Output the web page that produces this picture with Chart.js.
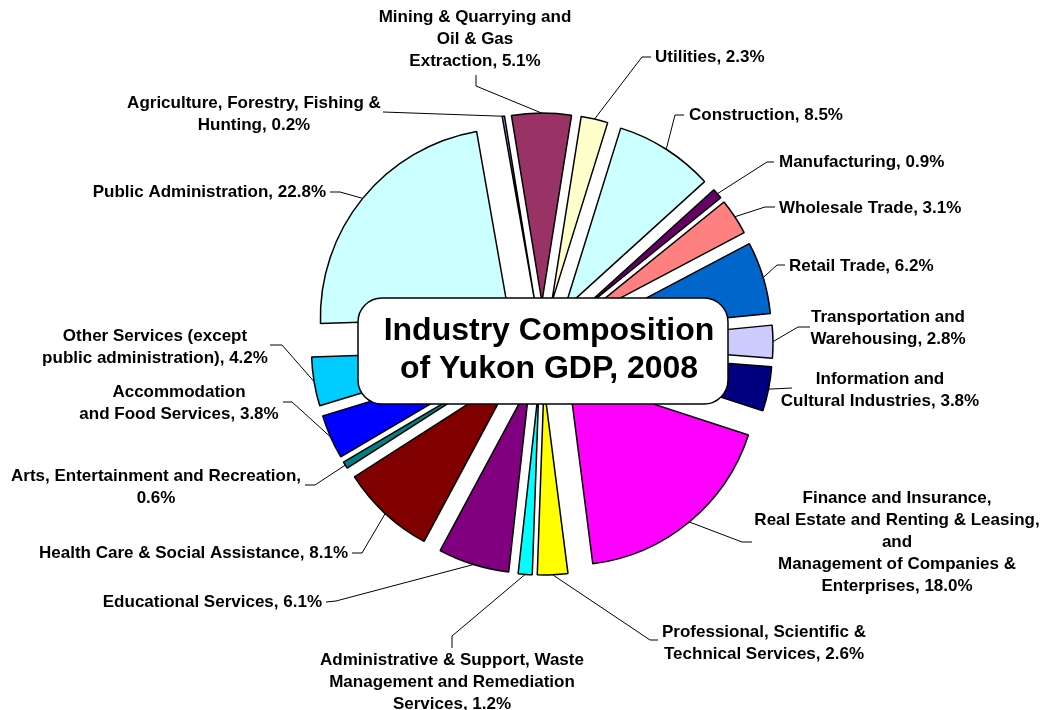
<!DOCTYPE html>
<html>
<head>
<meta charset="utf-8">
<script src="https://cdn.jsdelivr.net/npm/chart.js@4"></script>
<style>
  html, body { margin: 0; padding: 0; background: #fff; }
  canvas { display: block; }
</style>
</head>
<body>
<canvas id="gdpChart" width="1044" height="710"></canvas>
<script>
// Industry composition of Yukon GDP, 2008 (percent)
const categories = [
  "Agriculture, Forestry, Fishing & Hunting",
  "Mining & Quarrying and Oil & Gas Extraction",
  "Utilities",
  "Construction",
  "Manufacturing",
  "Wholesale Trade",
  "Retail Trade",
  "Transportation and Warehousing",
  "Information and Cultural Industries",
  "Finance and Insurance, Real Estate and Renting & Leasing, and Management of Companies & Enterprises",
  "Professional, Scientific & Technical Services",
  "Administrative & Support, Waste Management and Remediation Services",
  "Educational Services",
  "Health Care & Social Assistance",
  "Arts, Entertainment and Recreation",
  "Accommodation and Food Services",
  "Other Services (except public administration)",
  "Public Administration"
];
const shares = [0.2, 5.1, 2.3, 8.5, 0.9, 3.1, 6.2, 2.8, 3.8, 18.0, 2.6, 1.2, 6.1, 8.1, 0.6, 3.8, 4.2, 22.8];

// label text split in lines, {v} = value
const labelLines = [
  ["Agriculture, Forestry, Fishing &", "Hunting, {v}"],
  ["Mining & Quarrying and", "Oil & Gas", "Extraction, {v}"],
  ["Utilities, {v}"],
  ["Construction, {v}"],
  ["Manufacturing, {v}"],
  ["Wholesale Trade, {v}"],
  ["Retail Trade, {v}"],
  ["Transportation and", "Warehousing, {v}"],
  ["Information and", "Cultural Industries, {v}"],
  ["Finance and Insurance,", "Real Estate and Renting & Leasing,", "and", "Management of Companies &", "Enterprises, {v}"],
  ["Professional, Scientific &", "Technical Services, {v}"],
  ["Administrative & Support, Waste", "Management and Remediation", "Services, {v}"],
  ["Educational Services, {v}"],
  ["Health Care & Social Assistance, {v}"],
  ["Arts, Entertainment and Recreation,", "{v}"],
  ["Accommodation", "and Food Services, {v}"],
  ["Other Services (except", "public administration), {v}"],
  ["Public Administration, {v}"]
];
const titleLines = ["Industry Composition", "of Yukon GDP, 2008"];

const sliceColors = [
  "#9999FF", "#993366", "#FFFFCC", "#CCFFFF", "#660066", "#FF8080",
  "#0066CC", "#CCCCFF", "#000080", "#FF00FF", "#FFFF00", "#00FFFF",
  "#800080", "#800000", "#008080", "#0000FF", "#00CCFF", "#CCFFFF"
];

// where each label sits (x, first line y, align) and the leader's bend points
const labelPos = [
  { x: 254, y: 103, align: "center", lead: [[383, 112]] },
  { x: 475, y: 17, align: "center", lead: [[476, 75], [476, 86]] },
  { x: 655, y: 57, align: "left", lead: [[651, 57], [642, 57]] },
  { x: 689, y: 115, align: "left", lead: [[684, 115], [675, 115]] },
  { x: 779, y: 162, align: "left", lead: [[774, 162], [767, 162]] },
  { x: 779, y: 208, align: "left", lead: [[775, 207], [765, 207]] },
  { x: 789, y: 266, align: "left", lead: [[785, 265], [777, 265]] },
  { x: 888, y: 317, align: "center", lead: [[810, 327], [798, 327]] },
  { x: 880, y: 379, align: "center", lead: [[792, 388]] },
  { x: 897, y: 498, align: "center", lead: [[752, 542], [742, 542]] },
  { x: 764, y: 632, align: "center", lead: [[658, 640], [650, 640]] },
  { x: 452, y: 660, align: "center", lead: [[452, 648], [452, 636]] },
  { x: 322, y: 602, align: "right", lead: [[326, 602], [336, 601]] },
  { x: 348, y: 553, align: "right", lead: [[352, 553], [362, 553]] },
  { x: 156, y: 476, align: "center", lead: [[305, 485], [315, 485]] },
  { x: 179, y: 392, align: "center", lead: [[283, 402], [292, 402]] },
  { x: 155, y: 336, align: "center", lead: [[270, 345], [282, 345]] },
  { x: 326, y: 192, align: "right", lead: [[330, 192], [340, 192]] }
];

const EXPLODE = 42;
const LABEL_FONT = 'bold 17px "Liberation Sans", Arial, sans-serif';
const TITLE_FONT = 'bold 32px "Liberation Sans", Arial, sans-serif';

// move every slice outwards along its middle angle (exploded pie)
const explodePlugin = {
  id: "explode",
  afterDatasetsUpdate(chart) {
    chart.getDatasetMeta(0).data.forEach(function (arc) {
      const mid = (arc.startAngle + arc.endAngle) / 2;
      arc.x += Math.cos(mid) * EXPLODE;
      arc.y += Math.sin(mid) * EXPLODE;
    });
  }
};

// leader lines + labels, then the boxed title in the middle
const labelPlugin = {
  id: "sliceLabels",
  afterDatasetsDraw(chart) {
    const ctx = chart.ctx;
    const arcs = chart.getDatasetMeta(0).data;
    ctx.save();
    ctx.strokeStyle = "#000";
    ctx.lineWidth = 1;
    ctx.fillStyle = "#000";
    ctx.font = LABEL_FONT;
    ctx.textBaseline = "middle";
    arcs.forEach(function (arc, i) {
      const pos = labelPos[i];
      const mid = (arc.startAngle + arc.endAngle) / 2;
      const ex = arc.x + Math.cos(mid) * arc.outerRadius;
      const ey = arc.y + Math.sin(mid) * arc.outerRadius;
      ctx.beginPath();
      ctx.moveTo(pos.lead[0][0], pos.lead[0][1]);
      for (let k = 1; k < pos.lead.length; k++) ctx.lineTo(pos.lead[k][0], pos.lead[k][1]);
      ctx.lineTo(ex, ey);
      ctx.stroke();

      const v = shares[i].toFixed(1) + "%";
      ctx.textAlign = pos.align;
      labelLines[i].forEach(function (line, j) {
        ctx.fillText(line.replace("{v}", v), pos.x, pos.y + j * 22);
      });
    });

    // title box
    const bx = 358, by = 298, bw = 370, bh = 106, r = 24;
    ctx.beginPath();
    ctx.moveTo(bx + r, by);
    ctx.arcTo(bx + bw, by, bx + bw, by + bh, r);
    ctx.arcTo(bx + bw, by + bh, bx, by + bh, r);
    ctx.arcTo(bx, by + bh, bx, by, r);
    ctx.arcTo(bx, by, bx + bw, by, r);
    ctx.closePath();
    ctx.fillStyle = "#fff";
    ctx.fill();
    ctx.lineWidth = 1.5;
    ctx.stroke();
    ctx.fillStyle = "#000";
    ctx.font = TITLE_FONT;
    ctx.textAlign = "center";
    titleLines.forEach(function (line, j) {
      ctx.fillText(line, 549, 331 + j * 38);
    });
    ctx.restore();
  }
};

const ctx = document.getElementById("gdpChart").getContext("2d");
const gdpChart = new Chart(ctx, {
  type: "pie",
  data: {
    labels: categories,
    datasets: [
      {
        data: shares,
        backgroundColor: sliceColors,
        borderColor: "#000",
        borderWidth: 1.5,
      },
    ],
  },
  options: {
    responsive: false,
    devicePixelRatio: 1,
    animation: false,
    rotation: -10,
    radius: 189,
    layout: {
      padding: { left: 100, right: 60, top: 0, bottom: 22 },
    },
    plugins: {
      legend: { display: false },
      tooltip: { enabled: false },
    },
  },
  plugins: [explodePlugin, labelPlugin],
});
</script>
</body>
</html>
